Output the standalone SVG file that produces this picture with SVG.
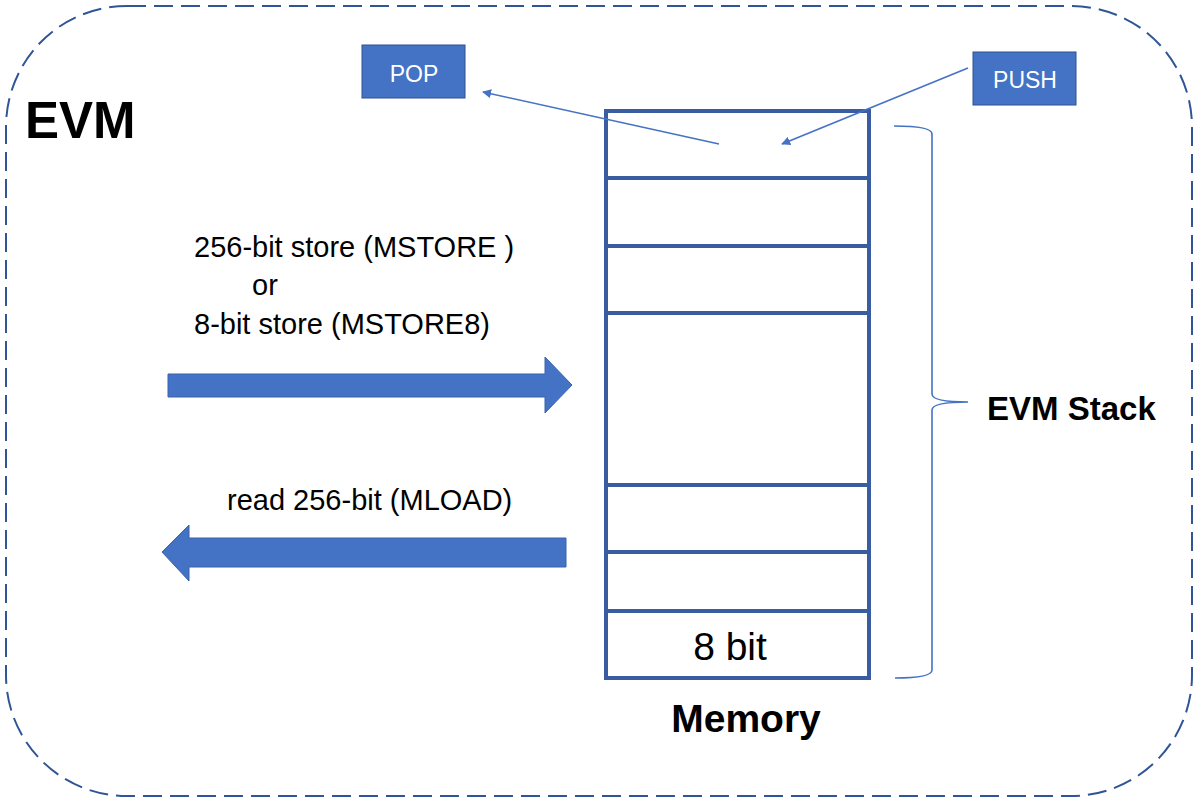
<svg xmlns="http://www.w3.org/2000/svg" width="1199" height="803" viewBox="0 0 1199 803">
<defs>
<style>
.t{font-family:"Liberation Sans",Arial,sans-serif;fill:#000}
.b{font-weight:bold}
.lbl{font-family:"Liberation Sans",Arial,sans-serif;fill:#fff;font-size:23px;text-anchor:middle}
.box{fill:#4472C4;stroke:#2F528F;stroke-width:1}
.stk{fill:none;stroke:#3A5CA0;stroke-width:4}
.thin{fill:none;stroke:#4472C4;stroke-width:1.6}
.blk{fill:#4472C4;stroke:#3A62AD;stroke-width:1}
</style>
<marker id="ah" viewBox="0 0 10 10" refX="9" refY="5" markerWidth="9" markerHeight="9" markerUnits="userSpaceOnUse" orient="auto">
<path d="M0,0 L10,5 L0,10 z" fill="#4472C4"/>
</marker>
</defs>
<rect width="1199" height="803" fill="#fff"/>
<g id="evm-border">
<rect x="6" y="6" width="1186" height="790" rx="121" ry="121" fill="none" stroke="#2F5597" stroke-width="2" stroke-dasharray="19 8"/>
<text class="t b" x="25" y="138" font-size="51">EVM</text>
</g>
<g id="memory">
<rect class="stk" x="606" y="111" width="263" height="567"/>
<line class="stk" x1="606" y1="178" x2="869" y2="178"/>
<line class="stk" x1="606" y1="246" x2="869" y2="246"/>
<line class="stk" x1="606" y1="313" x2="869" y2="313"/>
<line class="stk" x1="606" y1="485" x2="869" y2="485"/>
<line class="stk" x1="606" y1="552" x2="869" y2="552"/>
<line class="stk" x1="606" y1="611" x2="869" y2="611"/>
<text class="t" x="730" y="660" font-size="39" text-anchor="middle">8 bit</text>
<text class="t b" x="746" y="732" font-size="39" text-anchor="middle">Memory</text>
</g>
<g id="evm-stack">
<path class="thin" d="M894,126 Q932,126 932,134 L932,394 Q932,402 968,402 Q932,402 932,410 L932,670 Q932,678 895,678"/>
<text class="t b" x="987" y="420" font-size="33">EVM Stack</text>
</g>
<g id="pop">
<rect class="box" x="362" y="45" width="103" height="53"/>
<text class="lbl" x="414" y="82">POP</text>
</g>
<g id="push">
<rect class="box" x="973" y="52" width="103" height="53"/>
<text class="lbl" x="1025" y="88">PUSH</text>
</g>
<g id="store">
<text class="t" x="194" y="257" font-size="29">256-bit store (MSTORE )</text>
<text class="t" x="252" y="295" font-size="29">or</text>
<text class="t" x="194" y="334" font-size="29">8-bit store (MSTORE8)</text>
</g>
<g id="load">
<text class="t" x="227" y="510" font-size="29">read 256-bit (MLOAD)</text>
</g>
<g id="connectors">
<line class="thin" x1="719" y1="144" x2="483" y2="92" marker-end="url(#ah)"/>
<line class="thin" x1="968" y1="68" x2="782" y2="144" marker-end="url(#ah)"/>
<path class="blk" d="M168,374 L545,374 L545,357 L572,385 L545,413 L545,397 L168,397 Z"/>
<path class="blk" d="M566,538 L189,538 L189,525 L162,552 L189,581 L189,567 L566,567 Z"/>
</g>
</svg>
